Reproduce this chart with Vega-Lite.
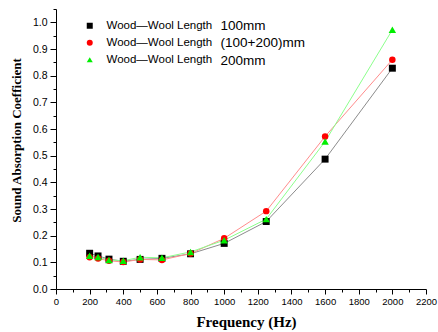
{
  "$schema": "https://vega.github.io/schema/vega-lite/v6.json",
  "width": 370,
  "height": 280,
  "autosize": "none",
  "padding": {"left": 56, "top": 9, "right": 12, "bottom": 43},
  "background": "white",
  "config": {
    "view": {"stroke": null},
    "axis": {"domainColor": "black", "tickColor": "black", "labelColor": "black", "titleColor": "black", "grid": false, "labelFont": "Liberation Sans", "domainWidth": 1, "tickWidth": 1}
  },
  "data": {
    "values": [
      {"f": 200, "len": "100mm", "v": 0.134},
      {"f": 250, "len": "100mm", "v": 0.124},
      {"f": 315, "len": "100mm", "v": 0.112},
      {"f": 400, "len": "100mm", "v": 0.104},
      {"f": 500, "len": "100mm", "v": 0.111},
      {"f": 630, "len": "100mm", "v": 0.115},
      {"f": 800, "len": "100mm", "v": 0.132},
      {"f": 1000, "len": "100mm", "v": 0.171},
      {"f": 1250, "len": "100mm", "v": 0.253},
      {"f": 1600, "len": "100mm", "v": 0.487},
      {"f": 2000, "len": "100mm", "v": 0.828},
      {"f": 200, "len": "(100+200)mm", "v": 0.119},
      {"f": 250, "len": "(100+200)mm", "v": 0.114},
      {"f": 315, "len": "(100+200)mm", "v": 0.106},
      {"f": 400, "len": "(100+200)mm", "v": 0.101},
      {"f": 500, "len": "(100+200)mm", "v": 0.111},
      {"f": 630, "len": "(100+200)mm", "v": 0.109},
      {"f": 800, "len": "(100+200)mm", "v": 0.133},
      {"f": 1000, "len": "(100+200)mm", "v": 0.19},
      {"f": 1250, "len": "(100+200)mm", "v": 0.292},
      {"f": 1600, "len": "(100+200)mm", "v": 0.572},
      {"f": 2000, "len": "(100+200)mm", "v": 0.86},
      {"f": 200, "len": "200mm", "v": 0.125},
      {"f": 250, "len": "200mm", "v": 0.12},
      {"f": 315, "len": "200mm", "v": 0.109},
      {"f": 400, "len": "200mm", "v": 0.106},
      {"f": 500, "len": "200mm", "v": 0.119},
      {"f": 630, "len": "200mm", "v": 0.117},
      {"f": 800, "len": "200mm", "v": 0.139},
      {"f": 1000, "len": "200mm", "v": 0.183},
      {"f": 1250, "len": "200mm", "v": 0.262},
      {"f": 1600, "len": "200mm", "v": 0.553},
      {"f": 2000, "len": "200mm", "v": 0.972}
    ]
  },
  "resolve": {"axis": {"x": "independent", "y": "independent"}},
  "layer": [
    {
      "mark": {"type": "line", "strokeWidth": 1},
      "encoding": {
        "x": {
          "field": "f", "type": "quantitative",
          "scale": {"domain": [0, 2200], "nice": false, "zero": false},
          "axis": {
            "orient": "bottom",
            "values": [0, 200, 400, 600, 800, 1000, 1200, 1400, 1600, 1800, 2000, 2200],
            "format": "d", "tickSize": 5, "labelFontSize": 9.5, "labelPadding": 2,
            "labelFlush": false, "labelOverlap": false,
            "title": "Frequency (Hz)", "titleFont": "Liberation Serif", "titleFontSize": 15, "titleFontWeight": "bold",
            "titleX": 190, "titleY": 37, "titleAlign": "center", "titleBaseline": "alphabetic"
          }
        },
        "y": {
          "field": "v", "type": "quantitative",
          "scale": {"domain": [0, 1.05], "nice": false, "zero": false},
          "axis": {
            "orient": "left",
            "values": [0, 0.1, 0.2, 0.3, 0.4, 0.5, 0.6, 0.7, 0.8, 0.9, 1.0],
            "format": ".1f", "tickSize": 6, "labelFontSize": 10.5, "labelPadding": 3,
            "labelFlush": false, "labelOverlap": false,
            "title": "Sound Absorption Coefficient", "titleFont": "Liberation Serif", "titleFontSize": 13, "titleFontWeight": "bold",
            "titleAngle": -90, "titleX": -40, "titleY": 131, "titleAlign": "center", "titleBaseline": "middle"
          }
        },
        "stroke": {
          "field": "len", "type": "nominal",
          "scale": {"domain": ["(100+200)mm", "100mm", "200mm"], "range": ["#ff8c8c", "#8c8c8c", "#8cff8c"]},
          "legend": {
            "orient": "none", "legendX": 151, "legendY": 10.5, "title": null,
            "values": ["100mm", "(100+200)mm", "200mm"],
            "labelFont": "Liberation Sans", "labelFontSize": 13.5, "labelColor": "black",
            "symbolOpacity": 0, "symbolSize": 1, "symbolStrokeWidth": 0, "labelOffset": 0, "rowPadding": 2.2, "padding": 0
          }
        }
      }
    },
    {
      "mark": {"type": "point", "filled": true, "opacity": 1},
      "encoding": {
        "x": {
          "field": "f", "type": "quantitative",
          "axis": {"orient": "bottom", "values": [100, 300, 500, 700, 900, 1100, 1300, 1500, 1700, 1900, 2100], "tickSize": 3, "labels": false, "domain": false, "title": null}
        },
        "y": {
          "field": "v", "type": "quantitative",
          "axis": {"orient": "left", "values": [0.05, 0.15, 0.25, 0.35, 0.45, 0.55, 0.65, 0.75, 0.85, 0.95, 1.05], "tickSize": 3, "labels": false, "domain": false, "title": null}
        },
        "fill": {
          "field": "len", "type": "nominal",
          "scale": {"domain": ["100mm", "(100+200)mm", "200mm"], "range": ["#000000", "#ff0000", "#00ee00"]},
          "legend": {
            "orient": "none", "legendX": 28, "legendY": 11, "title": null,
            "labelExpr": "'Wood—Wool Length'",
            "labelFont": "Liberation Sans", "labelFontSize": 11.5, "labelColor": "black",
            "symbolSize": 36, "labelOffset": 11, "rowPadding": 4, "padding": 0
          }
        },
        "shape": {
          "field": "len", "type": "nominal",
          "scale": {"domain": ["100mm", "(100+200)mm", "200mm"], "range": ["square", "circle", "triangle-up"]},
          "legend": {
            "orient": "none", "legendX": 28, "legendY": 11, "title": null,
            "labelExpr": "'Wood—Wool Length'",
            "labelFont": "Liberation Sans", "labelFontSize": 11.5, "labelColor": "black",
            "symbolSize": 36, "labelOffset": 11, "rowPadding": 4, "padding": 0
          }
        },
        "size": {
          "field": "len", "type": "nominal",
          "scale": {"domain": ["200mm", "100mm", "(100+200)mm"], "range": [55, 42, 44]},
          "legend": null
        }
      }
    }
  ]
}
